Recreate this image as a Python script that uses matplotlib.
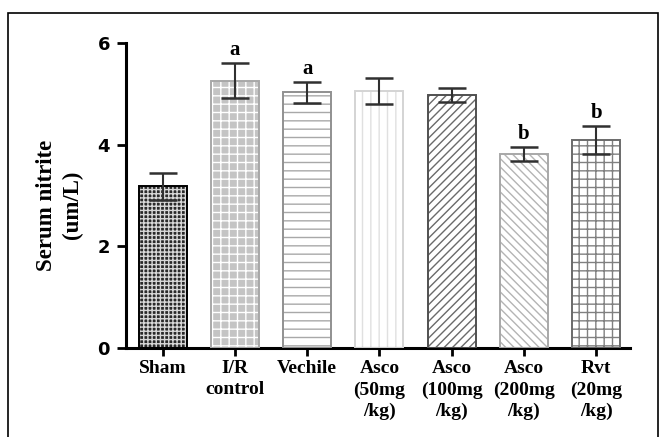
import matplotlib
matplotlib.use("Agg")
import matplotlib.pyplot as plt
from matplotlib.patches import Rectangle

groups = ["Sham", "I/R\ncontrol", "Vechile", "Asco\n(50mg\n/kg)",
          "Asco\n(100mg\n/kg)", "Asco\n(200mg\n/kg)", "Rvt\n(20mg\n/kg)"]
means = [3.18, 5.26, 5.03, 5.06, 4.97, 3.81, 4.09]
errs = [0.27, 0.34, 0.21, 0.26, 0.14, 0.14, 0.27]
letters = ["", "a", "a", "", "", "b", "b"]

# look of each bar: fill, hatch, hatch colour, border colour
fills = ["#2a2a2a", "#c4c4c4", "white", "white", "white", "white", "white"]
hatches = ["++++", "++", "--", "||", "////", "\\\\\\\\", "++"]
hatch_cols = ["#d8d8d8", "white", "#a8a8a8", "#e0e0e0", "#6a6a6a", "#b4b4b4", "#808080"]
borders = ["black", "#a8a8a8", "#909090", "#d4d4d4", "#505050", "#a8a8a8", "#6a6a6a"]

plt.rcParams["hatch.linewidth"] = 1.0

fig = plt.figure(figsize=(6.61, 4.37), dpi=100)
ax = fig.add_axes([126 / 661, 0.2037, 504 / 661, 0.698])

x = list(range(len(groups)))
for i in x:
    ax.bar(i, means[i], width=0.664, color=fills[i], edgecolor=hatch_cols[i],
           hatch=hatches[i], linewidth=0, zorder=2)
    ax.bar(i, means[i], width=0.664, fill=False, edgecolor=borders[i],
           linewidth=1.4, zorder=3)
    ax.errorbar(i, means[i], yerr=errs[i], color="#303030", capsize=10,
                capthick=1.8, elinewidth=1.5, zorder=4)
    if letters[i]:
        ax.text(i, means[i] + errs[i] + 0.06, letters[i], ha="center", va="bottom",
                fontsize=15, fontweight="bold", family="Liberation Serif")

ax.set_xlim(-0.505, 6.466)
ax.set_ylim(0, 6)
ax.set_yticks([0, 2, 4, 6])
ax.set_xticks(x)
ax.set_xticklabels(groups, fontsize=14, fontweight="bold", family="Liberation Serif",
                   linespacing=1.3)
for lab in ax.get_yticklabels():
    lab.set_fontsize(13)
    lab.set_fontweight("bold")

for s in ["top", "right"]:
    ax.spines[s].set_visible(False)
for s in ["left", "bottom"]:
    ax.spines[s].set_linewidth(2.2)
ax.tick_params(axis="y", direction="out", length=6.5, width=2, pad=5)
ax.tick_params(axis="x", direction="out", length=6, width=2, pad=3)

fig.text(60 / 661, 0.531, "Serum nitrite\n(um/L)", rotation=90, ha="center",
         va="center", multialignment="center", fontsize=16.5, fontweight="bold",
         family="Liberation Serif", linespacing=1.3)

# outer frame around the whole figure
fig.patches.append(Rectangle((8 / 661, -0.02), 650 / 661, 1.02 - 13 / 437,
                             transform=fig.transFigure, fill=False,
                             edgecolor="black", linewidth=1.2))

fig.savefig("out.png", dpi=100)
